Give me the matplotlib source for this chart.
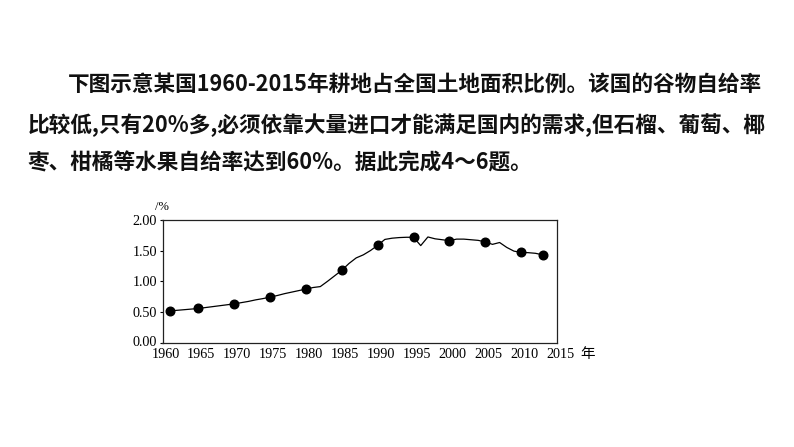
import matplotlib
matplotlib.use("Agg")
import matplotlib.pyplot as plt
from matplotlib.transforms import ScaledTranslation

# ---- data ----
years = list(range(1961, 2014))
values = [0.52, 0.53, 0.54, 0.55, 0.56, 0.575, 0.59, 0.605, 0.62, 0.635,
          0.655, 0.675, 0.70, 0.72, 0.745, 0.77, 0.80, 0.825, 0.85, 0.875,
          0.90, 0.915, 1.00, 1.09, 1.18, 1.29, 1.38, 1.43, 1.50, 1.585,
          1.68, 1.70, 1.71, 1.715, 1.715, 1.58, 1.72, 1.69, 1.675, 1.66,
          1.685, 1.685, 1.675, 1.665, 1.64, 1.60, 1.63, 1.55, 1.49, 1.47,
          1.465, 1.455, 1.43]
marker_years = [1961, 1965, 1970, 1975, 1980, 1985, 1990, 1995, 2000, 2005, 2010, 2013]
xticks = list(range(1960, 2016, 5))
yticks = [0.0, 0.5, 1.0, 1.5, 2.0]
ytick_labels = ["0.00", "0.50", "1.00", "1.50", "2.00"]

text_lines = [
    "下图示意某国1960-2015年耕地占全国土地面积比例。该国的谷物自给率",
    "比较低,只有20%多,必须依靠大量进口才能满足国内的需求,但石榴、葡萄、椰",
    "枣、柑橘等水果自给率达到60%。据此完成4～6题。",
]

W, H = 794, 447
fig = plt.figure(figsize=(W / 100, H / 100), dpi=100)
fig.patch.set_facecolor("white")

cjk = ["Noto Sans CJK SC", "DejaVu Sans"]
serif = ["Liberation Serif", "DejaVu Serif"]

# paragraph text
line_pos = [(68, 84), (28, 125), (28, 163)]
for (px, py), t in zip(line_pos, text_lines):
    fig.text(px / W, 1 - py / H, t, family=cjk, fontsize=15.6, fontweight="bold",
             ha="left", va="center", color="#111111")

ax = fig.add_axes([162.5 / W, 1 - 343 / H, (557 - 162.5) / W, (343 - 219.7) / H])
ax.plot(years, values, color="black", lw=0.9)
mv = [values[years.index(y)] for y in marker_years]
ax.plot(marker_years, mv, "o", color="black", ms=6.2, lw=0)

ax.set_xlim(1960, 2015)
ax.set_ylim(0, 2.0)
ax.set_xticks(xticks)
ax.set_xticklabels([str(x) for x in xticks], family=serif, fontsize=10.2)
ax.set_yticks(yticks)
ax.set_yticklabels(ytick_labels, family=serif, fontsize=10.2)
ax.tick_params(axis="x", length=0, pad=3.5)
ax.tick_params(axis="y", length=2.5, width=0.8, pad=1.5, direction="out")
for s in ax.spines.values():
    s.set_linewidth(0.9)
    s.set_color("#222222")

# x labels in the reference sit a few pixels right of their ticks
for lab in ax.get_xticklabels():
    lab.set_transform(lab.get_transform() + ScaledTranslation(3 / 100, 0, fig.dpi_scale_trans))
# lift the bottom y label a little so it clears the x labels
ylabs = ax.get_yticklabels()
ylabs[0].set_transform(ylabs[0].get_transform() + ScaledTranslation(0, 2 / 100, fig.dpi_scale_trans))

fig.text(162 / W, 1 - 207 / H, "/%", family=serif, fontsize=9, ha="center", va="center")
fig.text(588 / W, 1 - 354 / H, "年", family=cjk, fontsize=10.5, ha="center", va="center")

fig.savefig("out.png", dpi=100)
